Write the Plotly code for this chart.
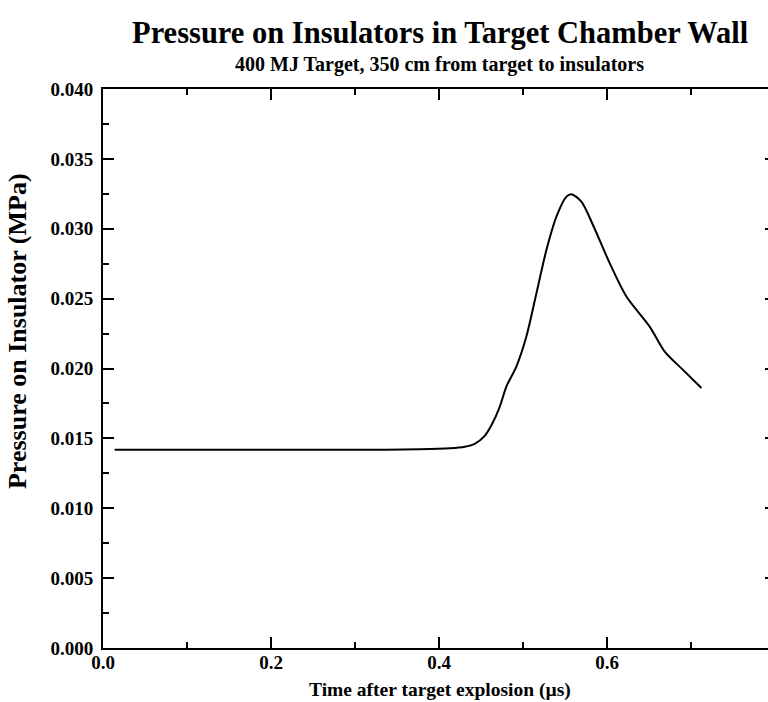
import plotly.graph_objects as go

# Data
time_us = [0.0139, 0.10, 0.234, 0.30, 0.377, 0.4127, 0.4306, 0.4425, 0.4544, 0.4627,
           0.4723, 0.4802, 0.4921, 0.504, 0.516, 0.5279, 0.5398, 0.5517, 0.5576,
           0.5695, 0.5833, 0.6032, 0.6231, 0.6508, 0.6687, 0.6905, 0.7124]
pressure_mpa = [0.01418, 0.01418, 0.01418, 0.01418, 0.01422, 0.01429, 0.01440, 0.01461,
                0.01518, 0.01597, 0.01726, 0.01871, 0.02014, 0.02229, 0.02539, 0.02849,
                0.03087, 0.03230, 0.03247, 0.03194, 0.03027, 0.02754, 0.02515, 0.02300,
                0.02121, 0.01990, 0.01860]

x_ticks = [0.0, 0.2, 0.4, 0.6]
x_tick_labels = ["0.0", "0.2", "0.4", "0.6"]
y_ticks = [0.000, 0.005, 0.010, 0.015, 0.020, 0.025, 0.030, 0.035, 0.040]
y_tick_labels = ["0.000", "0.005", "0.010", "0.015", "0.020", "0.025", "0.030", "0.035", "0.040"]

title = "Pressure on Insulators in Target Chamber Wall"
subtitle = "400 MJ Target, 350 cm from target to insulators"
x_title = "Time after target explosion (\u00b5s)"
y_title = "Pressure on Insulator (MPa)"

FONT = "Liberation Serif"
W, H = 768, 702
L, T, B = 103, 89, 54
x_max = (W - L) / 840.0

fig = go.Figure()
fig.add_trace(go.Scatter(x=time_us, y=pressure_mpa, mode="lines",
                         line=dict(color="black", width=2, shape="spline", smoothing=0.8),
                         showlegend=False, hoverinfo="skip"))
# invisible trace to anchor the right-side tick axis
fig.add_trace(go.Scatter(x=[time_us[0]], y=[pressure_mpa[0]], yaxis="y2", mode="markers",
                         marker=dict(opacity=0), showlegend=False, hoverinfo="skip"))

tickfont = dict(family=FONT, size=19, color="black")
fig.update_layout(
    width=W, height=H,
    margin=dict(l=L, r=0, t=T, b=B, pad=0),
    paper_bgcolor="white", plot_bgcolor="white",
    xaxis=dict(range=[0, x_max], tickvals=x_ticks, ticktext=[f"<b>{t}</b>" for t in x_tick_labels],
               ticks="inside", ticklen=11, tickwidth=2, tickcolor="black",
               minor=dict(dtick=0.1, tick0=0, ticks="inside", ticklen=6, tickwidth=1.5, tickcolor="black"),
               showline=True, linewidth=2, linecolor="black", mirror="ticks",
               showgrid=False, zeroline=False, tickfont=tickfont, ticklabelstandoff=-4),
    yaxis=dict(range=[0, 0.04], tickvals=y_ticks, ticktext=[f"<b>{t}</b>" for t in y_tick_labels],
               ticks="inside", ticklen=11, tickwidth=2, tickcolor="black",
               minor=dict(dtick=0.0025, tick0=0, ticks="inside", ticklen=6, tickwidth=1.5, tickcolor="black"),
               showline=True, linewidth=2, linecolor="black",
               showgrid=False, zeroline=False, tickfont=tickfont, ticklabelstandoff=4),
    yaxis2=dict(range=[0, 0.04], overlaying="y", side="right", tickvals=y_ticks,
                ticks="inside", ticklen=3, tickwidth=2, tickcolor="black",
                showticklabels=False, showline=False, showgrid=False, zeroline=False),
    annotations=[
        dict(text=f"<b>{title}</b>", xref="x", yref="paper", x=0.4008, y=1, yshift=56,
             xanchor="center", yanchor="middle", showarrow=False,
             font=dict(family=FONT, size=30.5, color="black")),
        dict(text=f"<b>{subtitle}</b>", xref="x", yref="paper", x=0.4008, y=1, yshift=25,
             xanchor="center", yanchor="middle", showarrow=False,
             font=dict(family=FONT, size=20, color="black")),
        dict(text=f"<b>{x_title}</b>", xref="x", yref="paper", x=0.4008, y=0, yshift=-42,
             xanchor="center", yanchor="middle", showarrow=False,
             font=dict(family=FONT, size=19.5, color="black")),
        dict(text=f"<b>{y_title}</b>", xref="paper", yref="paper", x=0, xshift=-86,
             y=0.567, textangle=-90,
             xanchor="center", yanchor="middle", showarrow=False,
             font=dict(family=FONT, size=26, color="black")),
    ],
)

# remove the default page margin so the figure sits at the window's top-left corner
fig.write_html("out.html", config={"displayModeBar": False},
               post_script="document.body.style.margin='0';"
                           "document.documentElement.style.overflow='hidden';")
